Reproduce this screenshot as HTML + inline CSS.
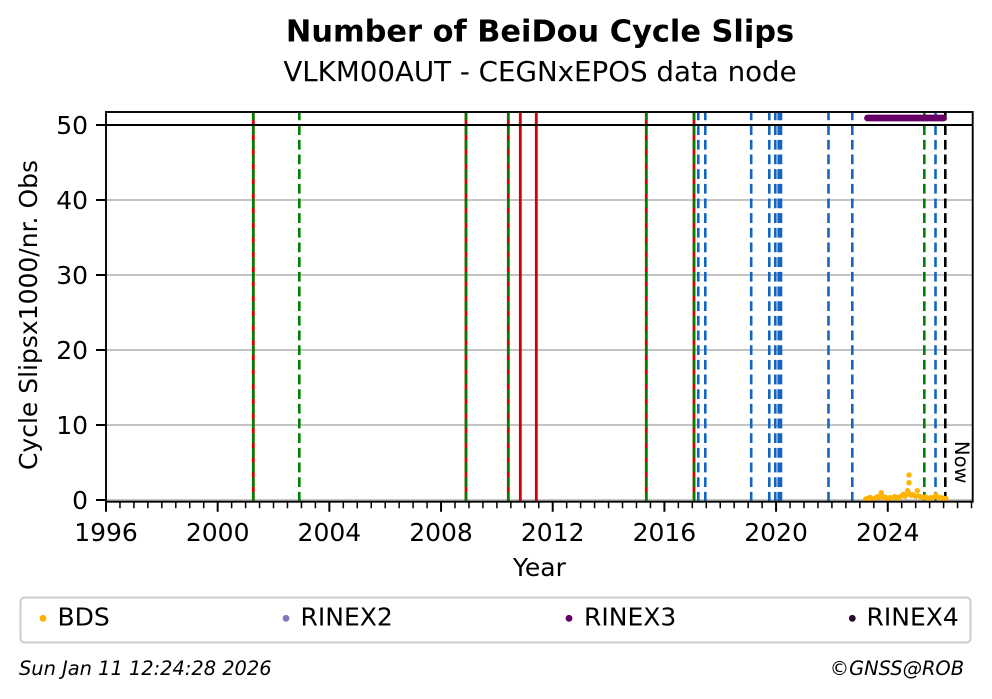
<!DOCTYPE html>
<html>
<head>
<meta charset="utf-8">
<style>
html,body{margin:0;padding:0;background:#fff;}
svg{display:block;}
text{font-family:"DejaVu Sans","Liberation Sans",sans-serif;fill:#000;}
</style>
</head>
<body>
<svg width="992" height="699" viewBox="0 0 992 699" xmlns="http://www.w3.org/2000/svg">
<rect x="0" y="0" width="992" height="699" fill="#fff"/>

<!-- Titles -->
<text x="540" y="41.5" font-size="30.4" font-weight="bold" text-anchor="middle">Number of BeiDou Cycle Slips</text>
<text x="540" y="81" font-size="27.7" text-anchor="middle">VLKM00AUT - CEGNxEPOS data node</text>

<defs>
<clipPath id="pc"><rect x="106" y="112" width="866.7" height="389.7"/></clipPath>
</defs>

<!-- grid -->
<g stroke="#b0b0b0" stroke-width="1.6">
<line x1="106" y1="500" x2="972.7" y2="500"/>
<line x1="106" y1="425" x2="972.7" y2="425"/>
<line x1="106" y1="350" x2="972.7" y2="350"/>
<line x1="106" y1="275" x2="972.7" y2="275"/>
<line x1="106" y1="200" x2="972.7" y2="200"/>
</g>

<g clip-path="url(#pc)">
<!-- red solid lines (under green dashed) -->
<g stroke="#d40000" stroke-width="2.8">
<line x1="253.3" y1="501.7" x2="253.3" y2="112"/>
<line x1="466" y1="501.7" x2="466" y2="112"/>
<line x1="508.3" y1="501.7" x2="508.3" y2="112"/>
<line x1="520.3" y1="501.7" x2="520.3" y2="112"/>
<line x1="536.3" y1="501.7" x2="536.3" y2="112"/>
<line x1="646.3" y1="501.7" x2="646.3" y2="112"/>
<line x1="694" y1="501.7" x2="694" y2="112"/>
</g>
<!-- green dashed -->
<g stroke="#008000" stroke-width="2.6" stroke-dasharray="9.8 4.87">
<line x1="253.3" y1="501.7" x2="253.3" y2="112"/>
<line x1="299.3" y1="501.7" x2="299.3" y2="112"/>
<line x1="466" y1="501.7" x2="466" y2="112"/>
<line x1="508.3" y1="501.7" x2="508.3" y2="112"/>
<line x1="646.3" y1="501.7" x2="646.3" y2="112"/>
<line x1="694" y1="501.7" x2="694" y2="112"/>
<line x1="924.3" y1="501.7" x2="924.3" y2="112"/>
</g>
<!-- blue dashed -->
<g stroke="#1565c0" stroke-width="2.6" stroke-dasharray="9.8 4.87">
<line x1="698.3" y1="501.7" x2="698.3" y2="112"/>
<line x1="705.3" y1="501.7" x2="705.3" y2="112"/>
<line x1="751.2" y1="501.7" x2="751.2" y2="112"/>
<line x1="769.3" y1="501.7" x2="769.3" y2="112"/>
<line x1="775.3" y1="501.7" x2="775.3" y2="112"/>
<line x1="778.7" y1="501.7" x2="778.7" y2="112"/>
<line x1="781" y1="501.7" x2="781" y2="112"/>
<line x1="828.5" y1="501.7" x2="828.5" y2="112"/>
<line x1="852.3" y1="501.7" x2="852.3" y2="112"/>
<line x1="935.5" y1="501.7" x2="935.5" y2="112"/>
</g>
<!-- black dashed (Now) -->
<line x1="945.3" y1="501.7" x2="945.3" y2="112" stroke="#000" stroke-width="2.6" stroke-dasharray="9.8 4.87"/>

<!-- RINEX3 band -->
<line x1="867.5" y1="118" x2="943.5" y2="118" stroke="#660066" stroke-width="6.8" stroke-linecap="round"/>

<!-- BDS dots -->
<g fill="#ffb300">
<circle cx="865.5" cy="499" r="2.5"/><circle cx="867" cy="498.5" r="2.5"/><circle cx="868.5" cy="498" r="2.5"/>
<circle cx="870" cy="497.2" r="2.5"/><circle cx="871.5" cy="498.5" r="2.5"/><circle cx="873" cy="499" r="2.5"/>
<circle cx="874.5" cy="498.5" r="2.5"/><circle cx="876" cy="497.5" r="2.5"/><circle cx="877.5" cy="496.5" r="2.5"/>
<circle cx="879" cy="497.5" r="2.5"/><circle cx="881.3" cy="492.7" r="2.7"/><circle cx="882.5" cy="496.5" r="2.5"/>
<circle cx="884" cy="498" r="2.5"/><circle cx="885.5" cy="497" r="2.5"/><circle cx="887" cy="498.5" r="2.5"/>
<circle cx="888.5" cy="499" r="2.5"/><circle cx="890" cy="497.5" r="2.5"/><circle cx="891.5" cy="498.5" r="2.5"/>
<circle cx="893" cy="497.5" r="2.5"/><circle cx="894.5" cy="496.5" r="2.5"/><circle cx="896" cy="497" r="2.5"/>
<circle cx="897.5" cy="498.5" r="2.5"/><circle cx="899" cy="497.5" r="2.5"/><circle cx="900.5" cy="496.5" r="2.5"/>
<circle cx="902" cy="495.5" r="2.5"/><circle cx="903.5" cy="494" r="2.5"/><circle cx="905" cy="496.5" r="2.5"/>
<circle cx="906.2" cy="495" r="2.5"/><circle cx="907.7" cy="490.7" r="2.7"/><circle cx="909" cy="482.7" r="2.7"/>
<circle cx="909" cy="475" r="2.7"/><circle cx="909.5" cy="494" r="2.5"/><circle cx="911" cy="495.5" r="2.5"/>
<circle cx="912.5" cy="494.5" r="2.5"/><circle cx="914" cy="495.5" r="2.5"/><circle cx="915.5" cy="496.5" r="2.5"/>
<circle cx="917.3" cy="490.7" r="2.7"/><circle cx="918.5" cy="496" r="2.5"/><circle cx="920" cy="496.5" r="2.5"/>
<circle cx="921.5" cy="497.5" r="2.5"/><circle cx="923" cy="497" r="2.5"/><circle cx="924.5" cy="498" r="2.5"/>
<circle cx="926" cy="497" r="2.5"/><circle cx="927.5" cy="498" r="2.5"/><circle cx="929" cy="498.5" r="2.5"/>
<circle cx="930.5" cy="497.5" r="2.5"/><circle cx="932" cy="498.5" r="2.5"/><circle cx="933.5" cy="497.5" r="2.5"/>
<circle cx="936" cy="495" r="2.7"/><circle cx="937.5" cy="497.5" r="2.5"/><circle cx="939" cy="498" r="2.5"/>
<circle cx="940.5" cy="497.5" r="2.5"/><circle cx="942" cy="498.5" r="2.5"/><circle cx="943.5" cy="498" r="2.5"/>
<circle cx="945" cy="499" r="2.5"/><circle cx="946" cy="498.5" r="2.5"/>
</g>
</g>

<!-- horizontal black line at 50 -->
<line x1="106" y1="125" x2="972.7" y2="125" stroke="#000" stroke-width="2"/>

<!-- spines -->
<rect x="106" y="112" width="866.7" height="389.7" fill="none" stroke="#000" stroke-width="1.9"/>

<!-- y ticks -->
<g stroke="#000" stroke-width="2">
<line x1="96" y1="500" x2="106" y2="500"/>
<line x1="96" y1="425" x2="106" y2="425"/>
<line x1="96" y1="350" x2="106" y2="350"/>
<line x1="96" y1="275" x2="106" y2="275"/>
<line x1="96" y1="200" x2="106" y2="200"/>
<line x1="96" y1="125" x2="106" y2="125"/>
</g>
<g font-size="25" text-anchor="end">
<text x="88" y="509">0</text>
<text x="88" y="434">10</text>
<text x="88" y="359">20</text>
<text x="88" y="284">30</text>
<text x="88" y="209">40</text>
<text x="88" y="134">50</text>
</g>

<!-- x ticks -->
<path stroke="#000" stroke-width="2" fill="none" d="M106 501.7v10M217.68 501.7v10M329.36 501.7v10M441.04 501.7v10M552.72 501.7v10M664.4 501.7v10M776.08 501.7v10M887.76 501.7v10"/>
<path stroke="#000" stroke-width="1.5" fill="none" d="M119.96 501.7v6.5M133.92 501.7v6.5M147.88 501.7v6.5M161.84 501.7v6.5M175.8 501.7v6.5M189.76 501.7v6.5M203.72 501.7v6.5M231.64 501.7v6.5M245.6 501.7v6.5M259.56 501.7v6.5M273.52 501.7v6.5M287.48 501.7v6.5M301.44 501.7v6.5M315.4 501.7v6.5M343.32 501.7v6.5M357.28 501.7v6.5M371.24 501.7v6.5M385.2 501.7v6.5M399.16 501.7v6.5M413.12 501.7v6.5M427.08 501.7v6.5M455 501.7v6.5M468.96 501.7v6.5M482.92 501.7v6.5M496.88 501.7v6.5M510.84 501.7v6.5M524.8 501.7v6.5M538.76 501.7v6.5M566.68 501.7v6.5M580.64 501.7v6.5M594.6 501.7v6.5M608.56 501.7v6.5M622.52 501.7v6.5M636.48 501.7v6.5M650.44 501.7v6.5M678.36 501.7v6.5M692.32 501.7v6.5M706.28 501.7v6.5M720.24 501.7v6.5M734.2 501.7v6.5M748.16 501.7v6.5M762.12 501.7v6.5M790.04 501.7v6.5M804 501.7v6.5M817.96 501.7v6.5M831.92 501.7v6.5M845.88 501.7v6.5M859.84 501.7v6.5M873.8 501.7v6.5M901.72 501.7v6.5M915.68 501.7v6.5M929.64 501.7v6.5M943.6 501.7v6.5M957.56 501.7v6.5M971.52 501.7v6.5"/>
<g font-size="25" text-anchor="middle">
<text x="106" y="541">1996</text>
<text x="217.68" y="541">2000</text>
<text x="329.36" y="541">2004</text>
<text x="441.04" y="541">2008</text>
<text x="552.72" y="541">2012</text>
<text x="664.4" y="541">2016</text>
<text x="776.08" y="541">2020</text>
<text x="887.76" y="541">2024</text>
</g>

<!-- axis labels -->
<text x="539.4" y="576" font-size="25" text-anchor="middle">Year</text>
<text transform="translate(37,315) rotate(-90)" font-size="25" text-anchor="middle">Cycle Slipsx1000/nr. Obs</text>

<!-- Now -->
<text transform="translate(955,441) rotate(90)" font-size="19.5">Now</text>

<!-- legend -->
<rect x="20.5" y="597.5" width="950" height="45" rx="4" ry="4" fill="#fff" stroke="#cccccc" stroke-width="2"/>
<circle cx="43" cy="618.3" r="3.4" fill="#ffb300"/>
<text x="57.5" y="625.5" font-size="25">BDS</text>
<circle cx="286" cy="618.3" r="3.4" fill="#8079bc"/>
<text x="300.5" y="625.5" font-size="25">RINEX2</text>
<circle cx="569" cy="618.3" r="3.4" fill="#660066"/>
<text x="584" y="625.5" font-size="25">RINEX3</text>
<circle cx="852.3" cy="618.3" r="3.4" fill="#2a0a30"/>
<text x="866.5" y="625.5" font-size="25">RINEX4</text>

<!-- footer -->
<text x="19" y="675" font-size="19.4" font-style="italic">Sun Jan 11 12:24:28 2026</text>
<text x="964" y="675" font-size="19.4" font-style="italic" text-anchor="end">©GNSS@ROB</text>
</svg>
</body>
</html>
